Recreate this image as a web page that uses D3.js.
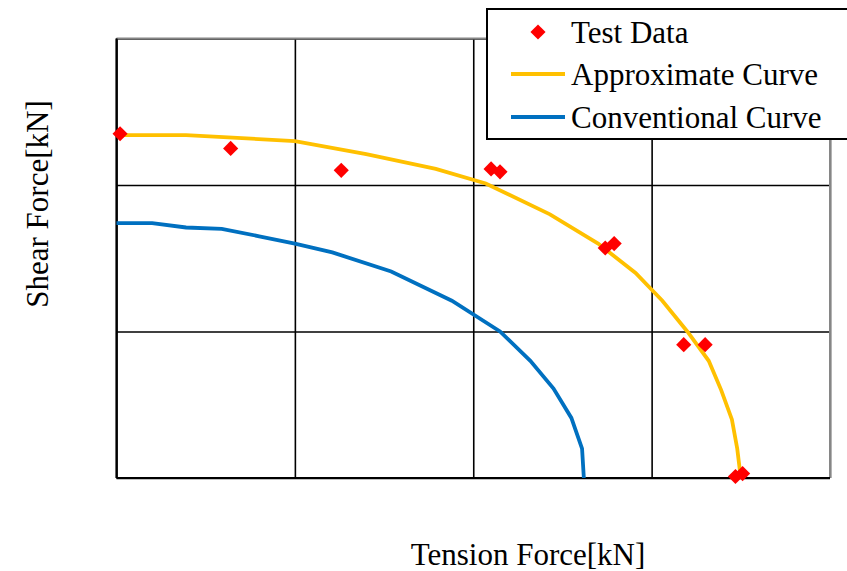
<!DOCTYPE html>
<html>
<head>
<meta charset="utf-8">
<script src="https://cdn.jsdelivr.net/npm/d3@7"></script>
<style>
  body { margin: 0; background: #fff; }
  text { font-family: "Liberation Serif", "Times New Roman", serif; }
</style>
</head>
<body>
<script>
// Datos (unidades relativas de la figura)
var testData = [
  [2, 235], [64, 225], [126, 210], [210, 211], [215, 209],
  [274, 157], [279, 160], [318, 91], [330, 91], [347, 1], [351, 3]
];
var approxCurve = [
  [0, 234], [39, 234], [100, 230], [140, 221], [179, 211], [207, 201],
  [243, 180], [270, 160], [291, 140], [306, 121], [320, 100], [332, 80],
  [339, 60], [345, 40], [348, 20], [350, 0]
];
var convCurve = [
  [0, 174], [20, 174], [39, 171], [59, 170], [80, 165], [100, 160],
  [121, 154], [154, 141], [188, 121], [215, 100], [232, 80], [245, 61],
  [255, 41], [261, 20], [262, 0]
];
var xTicks = [0, 100, 200, 300, 400];
var yTicks = [0, 100, 200, 300];
var legendItems = ["Test Data", "Approximate Curve", "Conventional Curve"];

var svgWidth = 847;
var svgHeight = 571;

var svg = d3.select("body")
  .append("svg")
  .attr("width", svgWidth)
  .attr("height", svgHeight);

var xScale = d3.scaleLinear().domain([0, 400]).range([116.5, 830]);
var yScale = d3.scaleLinear().domain([0, 300]).range([478, 38.5]);

// Rejilla
svg.append("g")
  .attr("transform", "translate(0," + yScale(0) + ")")
  .call(d3.axisBottom(xScale).tickValues(xTicks).tickSize(-(yScale(0) - yScale(300))).tickFormat(""))
  .call(function(g) {
    g.select(".domain").remove();
    g.selectAll("line").attr("stroke", "#000").attr("stroke-width", 1.6);
  });

svg.append("g")
  .attr("transform", "translate(" + xScale(0) + ",0)")
  .call(d3.axisLeft(yScale).tickValues(yTicks).tickSize(-(xScale(400) - xScale(0))).tickFormat(""))
  .call(function(g) {
    g.select(".domain").remove();
    g.selectAll("line").attr("stroke", "#000").attr("stroke-width", 1.6);
  });

// Bordes superior y derecho en gris
svg.append("line")
  .attr("x1", xScale(0)).attr("x2", xScale(400))
  .attr("y1", yScale(300)).attr("y2", yScale(300))
  .attr("stroke", "#868686").attr("stroke-width", 2);
svg.append("line")
  .attr("x1", xScale(400)).attr("x2", xScale(400))
  .attr("y1", yScale(300)).attr("y2", yScale(0))
  .attr("stroke", "#868686").attr("stroke-width", 2);
// Bordes izquierdo e inferior
svg.append("line")
  .attr("x1", xScale(0)).attr("x2", xScale(0))
  .attr("y1", yScale(300)).attr("y2", yScale(0))
  .attr("stroke", "#000").attr("stroke-width", 2.2);
svg.append("line")
  .attr("x1", xScale(0)).attr("x2", xScale(400))
  .attr("y1", yScale(0)).attr("y2", yScale(0))
  .attr("stroke", "#000").attr("stroke-width", 2.2);

var line = d3.line()
  .x(function(d) { return xScale(d[0]); })
  .y(function(d) { return yScale(d[1]); });

svg.append("path")
  .datum(convCurve)
  .attr("d", line)
  .attr("fill", "none")
  .attr("stroke", "#0070C0")
  .attr("stroke-width", 3.8);

svg.append("path")
  .datum(approxCurve)
  .attr("d", line)
  .attr("fill", "none")
  .attr("stroke", "#FFC000")
  .attr("stroke-width", 3.8);

var diamond = d3.symbol().type(d3.symbolSquare).size(115);

svg.selectAll(".pt")
  .data(testData)
  .enter()
  .append("path")
  .attr("class", "pt")
  .attr("d", diamond)
  .attr("transform", function(d) { return "translate(" + xScale(d[0]) + "," + yScale(d[1]) + ") rotate(45)"; })
  .attr("fill", "#FF0000");

// Títulos de ejes
svg.append("text")
  .attr("x", 528)
  .attr("y", 565)
  .attr("text-anchor", "middle")
  .attr("font-size", 31)
  .text("Tension Force[kN]");

svg.append("text")
  .attr("transform", "translate(48,204) rotate(-90)")
  .attr("text-anchor", "middle")
  .attr("font-size", 31)
  .text("Shear Force[kN]");

// Leyenda
var legend = svg.append("g");
legend.append("rect")
  .attr("x", 487).attr("y", 9)
  .attr("width", 370).attr("height", 130)
  .attr("fill", "#fff")
  .attr("stroke", "#000")
  .attr("stroke-width", 2);

var rowY = [32, 74, 117];
legend.append("path")
  .attr("d", diamond)
  .attr("transform", "translate(538," + rowY[0] + ") rotate(45)")
  .attr("fill", "#FF0000");
legend.append("line")
  .attr("x1", 511).attr("x2", 565)
  .attr("y1", rowY[1]).attr("y2", rowY[1])
  .attr("stroke", "#FFC000").attr("stroke-width", 3.8);
legend.append("line")
  .attr("x1", 511).attr("x2", 565)
  .attr("y1", rowY[2]).attr("y2", rowY[2])
  .attr("stroke", "#0070C0").attr("stroke-width", 3.8);

legend.selectAll(".lt")
  .data(legendItems)
  .enter()
  .append("text")
  .attr("class", "lt")
  .attr("x", 571)
  .attr("y", function(d, i) { return rowY[i] + 11; })
  .attr("font-size", 31)
  .text(function(d) { return d; });
</script>
</body>
</html>
